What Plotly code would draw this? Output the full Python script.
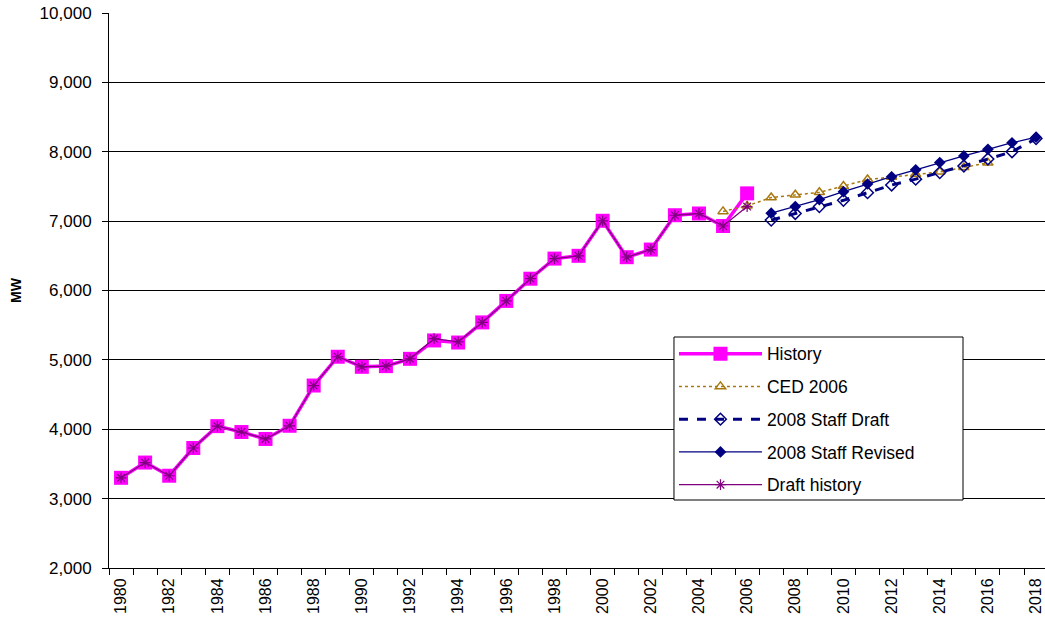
import plotly.graph_objects as go

hist_years = list(range(1980, 2007))
history = [3300, 3520, 3330, 3730, 4045, 3960, 3860, 4050, 4630, 5045, 4900, 4910, 5015,
           5280, 5250, 5540, 5850, 6170, 6460, 6500, 7005, 6480, 6590, 7085, 7110, 6930, 7400]
draft_history = [3300, 3520, 3330, 3730, 4045, 3960, 3860, 4050, 4630, 5045, 4900, 4910, 5015,
                 5305, 5260, 5540, 5850, 6170, 6460, 6500, 7005, 6480, 6590, 7085, 7110, 6930, 7210]

ced_years = list(range(2005, 2017))
ced_2006 = [7140, 7220, 7340, 7380, 7415, 7505, 7600, 7635, 7675, 7710, 7775, 7840]

fc_years = list(range(2007, 2019))
staff_draft = [7015, 7110, 7210, 7300, 7410, 7520, 7605, 7700, 7795, 7895, 8000, 8190]
staff_revised = [7115, 7210, 7310, 7425, 7535, 7640, 7740, 7845, 7940, 8035, 8130, 8210]

x_labels = list(range(1980, 2019, 2))
y_ticks = list(range(2000, 10001, 1000))

FONT = "Arial, Liberation Sans, sans-serif"
fig = go.Figure()

fig.add_trace(go.Scatter(x=hist_years, y=history, name="History", mode="lines+markers",
                         line=dict(color="#FF00FF", width=3.5),
                         marker=dict(symbol="square", size=14, color="#FF00FF"),
                         legendgroup="a", legendrank=1))
fig.add_trace(go.Scatter(x=ced_years, y=ced_2006, name="CED 2006", mode="lines+markers",
                         line=dict(color="#A8780E", width=1.5, dash="dot"),
                         marker=dict(symbol="triangle-up-open", size=9, color="#A8780E",
                                     line=dict(width=1.5)),
                         legendgroup="b", legendrank=2))
fig.add_trace(go.Scatter(x=fc_years, y=staff_draft, name="2008 Staff Draft", mode="lines+markers",
                         line=dict(color="#000080", width=3, dash="dash"),
                         marker=dict(symbol="diamond-open", size=9, color="#000080",
                                     line=dict(width=1.5)),
                         legendgroup="c", legendrank=3))
fig.add_trace(go.Scatter(x=fc_years, y=staff_revised, name="2008 Staff Revised", mode="lines+markers",
                         line=dict(color="#000080", width=1.3),
                         marker=dict(symbol="diamond", size=9, color="#000080"),
                         legendgroup="d", legendrank=4))
fig.add_trace(go.Scatter(x=hist_years, y=draft_history, name="Draft history", mode="lines+markers",
                         line=dict(color="#800080", width=1.3),
                         marker=dict(symbol="asterisk-open", size=9, color="#800080",
                                     line=dict(width=1.2, color="#800080")),
                         legendgroup="e", legendrank=5))

fig.update_layout(
    width=1045, height=619,
    margin=dict(l=109, r=0, t=13, b=51),
    paper_bgcolor="white", plot_bgcolor="white",
    font=dict(family=FONT, color="black", size=14),
    showlegend=True,
    legend=dict(x=0.6036, y=0.4184, xanchor="left", yanchor="top",
                borderwidth=0, bgcolor="rgba(0,0,0,0)",
                font=dict(size=17.5, family=FONT), itemwidth=83,
                traceorder="grouped", tracegroupgap=7),
    shapes=[dict(type="rect", xref="paper", yref="paper", x0=0.6036, x1=0.9124,
                 y0=0.1225, y1=0.4162, line=dict(color="black", width=1),
                 fillcolor="white", layer="above")],
)
fig.update_xaxes(range=[1979.5, 2018.37], tickvals=x_labels, ticktext=[str(v) for v in x_labels],
                 tickangle=-90, ticks="", showgrid=False, zeroline=False, automargin=False,
                 showline=True, linecolor="black", linewidth=1, ticklabelstandoff=3,
                 tickfont=dict(size=16, family=FONT),
                 minor=dict(tick0=1979.5, dtick=1, ticks="outside", ticklen=6,
                            tickcolor="black", showgrid=False))
fig.update_yaxes(range=[2000, 10000], tickvals=y_ticks, tickformat=",", ticks="outside",
                 ticklen=6, tickcolor="black", showgrid=True, gridcolor="black", gridwidth=1,
                 zeroline=False, showline=True, linecolor="black", linewidth=1, automargin=False,
                 tickfont=dict(size=17, family=FONT), ticklabelstandoff=7,
                 title=dict(text="<b>MW</b>", font=dict(size=14, family=FONT), standoff=14))

fig.write_html("out.html", config={"displayModeBar": False},
               post_script="document.body.style.margin='0';document.body.style.overflow='hidden';")
